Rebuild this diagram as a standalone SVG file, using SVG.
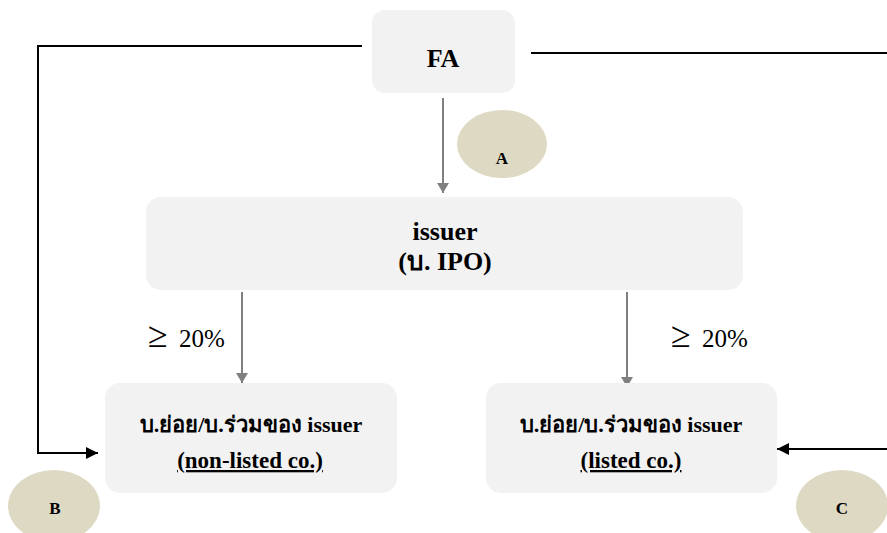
<svg xmlns="http://www.w3.org/2000/svg" width="887" height="533" viewBox="0 0 887 533" font-family="Liberation Serif, serif">
<defs>
<marker id="ag" markerWidth="10" markerHeight="12" refX="10" refY="6" orient="auto" markerUnits="userSpaceOnUse"><path d="M0,0 L10,6 L0,12 Z" fill="#808080"/></marker>
<marker id="ak" markerWidth="12" markerHeight="12" refX="12" refY="6" orient="auto" markerUnits="userSpaceOnUse"><path d="M0,0 L12,6 L0,12 Z" fill="#000"/></marker>
</defs>
<style>
.box{fill:#f2f2f2}
.circ{fill:#ddd9c3}
.t{font-weight:bold;fill:#000;text-anchor:middle}
.pct{font-size:25px;fill:#000}
.g{stroke:#808080;stroke-width:2;fill:none}
.k{stroke:#000;stroke-width:2;fill:none}
</style>
<rect width="887" height="533" fill="#fff"/>
<g id="connectors">
<line class="g" x1="443" y1="98" x2="443" y2="193" marker-end="url(#ag)"/>
<line class="g" x1="242" y1="292" x2="242" y2="383" marker-end="url(#ag)"/>
<line class="g" x1="627" y1="292" x2="627" y2="387" marker-end="url(#ag)"/>
<polyline class="k" points="362,46 38,46 38,453 98,453" marker-end="url(#ak)"/>
<line class="k" x1="531" y1="53" x2="887" y2="53"/>
<line class="k" x1="887" y1="449" x2="777" y2="449" marker-end="url(#ak)"/>
<text class="pct" x="148" y="347"><tspan font-size="36">≥</tspan><tspan x="179">20%</tspan></text>
<text class="pct" x="671" y="347"><tspan font-size="36">≥</tspan><tspan x="702">20%</tspan></text>
</g>
<g id="fa">
<rect class="box" x="372" y="10" width="143" height="83" rx="13"/>
<text class="t" x="443" y="67" font-size="26">FA</text>
</g>
<g id="issuer">
<rect class="box" x="146" y="197" width="597" height="93" rx="15"/>
<text class="t" x="445" y="240" font-size="26">issuer</text>
<text class="t" x="445" y="270" font-size="26">(บ. IPO)</text>
</g>
<g id="nonlisted">
<rect class="box" x="105" y="383" width="292" height="110" rx="15"/>
<text class="t" x="251" y="432" font-size="22">บ.ย่อย/บ.ร่วมของ issuer</text>
<text class="t" x="250" y="468" font-size="23" text-decoration="underline">(non-listed co.)</text>
</g>
<g id="listed">
<rect class="box" x="486" y="383" width="291" height="110" rx="15"/>
<text class="t" x="631" y="432" font-size="22">บ.ย่อย/บ.ร่วมของ issuer</text>
<text class="t" x="631" y="468" font-size="23" text-decoration="underline">(listed co.)</text>
</g>
<g id="a">
<ellipse class="circ" cx="502" cy="144" rx="45" ry="34"/>
<text class="t" x="502" y="164" font-size="17">A</text>
</g>
<g id="b">
<ellipse class="circ" cx="54" cy="506" rx="46" ry="36"/>
<text class="t" x="55" y="514" font-size="17">B</text>
</g>
<g id="c">
<ellipse class="circ" cx="842" cy="506" rx="46" ry="36"/>
<text class="t" x="842" y="514" font-size="17">C</text>
</g>
</svg>
